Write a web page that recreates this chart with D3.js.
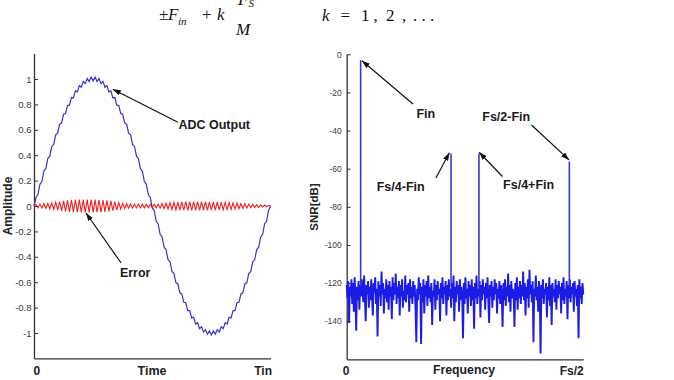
<!DOCTYPE html>
<html><head><meta charset="utf-8">
<script src="https://cdn.jsdelivr.net/npm/d3@7"></script>
<style>body{margin:0;background:#fff}svg{display:block}text.sans{font-family:"Liberation Sans",Arial,sans-serif}</style>
</head><body><svg id="c" width="674" height="380"></svg>
<script>
// ---- Left panel: time domain ----
const adcOutput=[0,.067,.090,.171,.193,.274,.294,.373,.392,.469,.485,.560,.573,.644,.654,.722,.728,.792,.794,.854,.851,.906,.899,.949,.936,.981,.963,1.003,.980,1.014,.985,1.014,.980,1.003,.963,.981,.936,.949,.899,.906,.851,.854,.794,.792,.728,.722,.654,.644,.573,.560,.485,.469,.392,.373,.294,.274,.193,.171,.090,.067,-.015,-.037,-.120,-.141,-.223,-.244,-.324,-.343,-.422,-.439,-.515,-.530,-.603,-.614,-.684,-.692,-.758,-.762,-.824,-.824,-.881,-.876,-.929,-.919,-.966,-.951,-.993,-.973,-1.010,-.984,-1.015,-.984,-1.010,-.973,-.993,-.951,-.966,-.919,-.929,-.876,-.881,-.824,-.824,-.762,-.758,-.692,-.684,-.614,-.603,-.530,-.515,-.439,-.422,-.343,-.324,-.244,-.223,-.141,-.120,-.037,0];
const errorSignal=[0,.012,-.014,.015,-.016,.018,-.018,.02,-.022,.025,-.027,.03,-.032,.035,-.038,.04,-.042,.045,-.046,.048,-.048,.05,-.05,.05,-.05,.05,-.05,.05,-.05,.049,-.05,.05,-.049,.048,-.048,.047,-.046,.044,-.042,.04,-.037,.034,-.03,.027,-.024,.021,-.019,.018,-.017,.016,-.016,.015,-.015,.015,-.014,.014,-.014,.013,-.013,.012,-.012,.013,-.014,.015,-.016,.018,-.02,.022,-.024,.026,-.027,.029,-.03,.031,-.032,.033,-.033,.034,-.034,.035,-.035,.035,-.035,.035,-.035,.035,-.034,.034,-.034,.033,-.033,.033,-.032,.032,-.031,.031,-.03,.029,-.028,.027,-.026,.025,-.024,.023,-.022,.02,-.019,.018,-.016,.015,-.014,.013,-.012,.011,-.01,.009,-.008,.007,-.006,.005,0];
const ampTicks=[-1,-0.8,-0.6,-0.4,-0.2,0,0.2,0.4,0.6,0.8,1];
const ampTickLabels=["-1","-0.8","-0.6","-0.4","-0.2","0","0.2","0.4","0.6","0.8","1"];
const timeTickLabels=["0","Tin"];

// ---- Right panel: spectrum ----
const noiseFloorDb=[
-121,-128,-119,-141,-122,-127,-118,-131,-120,-135,-117,-126,-145,-122,-129,-119,-134,-121,-127,-118,
-124,-130,-116,-128,-140,-121,-126,-119,-133,-122,-129,-118,-127,-137,-120,-125,-117,-131,-123,-148,
-119,-127,-121,-132,-114,-126,-120,-136,-123,-128,-118,-130,-121,-134,-119,-127,-122,-139,-117,-129,
-120,-126,-115,-131,-122,-128,-119,-137,-121,-127,-118,-133,-124,-129,-116,-130,-121,-126,-120,-135,
-118,-128,-122,-131,-119,-127,-121,-134,-151,-123,-129,-117,-126,-120,-152,-122,-130,-118,-136,-121,
-127,-119,-132,-116,-128,-122,-130,-120,-142,-124,-127,-118,-134,-121,-129,-119,-126,-123,-140,-120,
-128,-117,-131,-122,-126,-119,-137,-121,-129,-118,-127,-123,-133,-120,-128,-116,-140,-122,-130,-119,
-126,-121,-135,-118,-129,-122,-127,-149,-120,-131,-117,-128,-123,-136,-119,-127,-121,-132,-118,-129,
-122,-144,-120,-128,-116,-131,-123,-127,-119,-138,-121,-129,-118,-126,-122,-134,-120,-128,-117,-130,
-141,-121,-127,-119,-133,-122,-129,-118,-126,-120,-136,-123,-128,-119,-131,-121,-127,-143,-120,-129,
-118,-132,-122,-127,-115,-130,-121,-135,-119,-128,-123,-126,-143,-120,-129,-117,-134,-122,-128,-119,
-131,-121,-127,-114,-129,-120,-137,-122,-128,-118,-133,-113,-126,-121,-130,-119,-151,-123,-127,-116,
-129,-122,-135,-119,-127,-157,-121,-128,-118,-131,-123,-126,-120,-138,-122,-129,-117,-132,-121,-142,
-120,-127,-123,-130,-118,-134,-121,-128,-119,-126,-122,-136,-120,-129,-117,-131,-123,-127,-119,-139,
-121,-128,-118,-130,-122,-126,-120,-135,-119,-127,-123,-132,-121,-149,-118,-128,-122,-131,-120,-126];
const spikeFreq=[0.059,0.441,0.559,0.941];
const spikeDb=[-3,-52,-52,-56.3];
const snrTicks=[-140,-120,-100,-80,-60,-40,-20,0];
const snrTickLabels=["-140","-120","-100","-80","-60","-40","-20","0"];
const freqTickLabels=["0","Fs/2"];

const leftNotes=[
  {text:"ADC Output",tip:[40,0.92],tail:[73,0.66],at:[73.3,0.61]},
  {text:"Error",tip:[26.4,-0.055],tail:[44.2,-0.449],at:[43.6,-0.56]}];
const rightNotes=[
  {text:"Fin",tip:[0.0647,-3.4],tail:[0.280,-26.1],at:[0.295,-33.4]},
  {text:"Fs/4-Fin",tip:[0.434,-51.6],tail:[0.377,-64.9],at:[0.127,-71.7]},
  {text:"Fs/4+Fin",tip:[0.560,-51.4],tail:[0.658,-64.1],at:[0.661,-70.7]},
  {text:"Fs/2-Fin",tip:[0.940,-55.4],tail:[0.781,-37.1],at:[0.573,-35]}];

const SANS="Liberation Sans, Arial, sans-serif";
const SERIF="Liberation Serif, Times New Roman, serif";
const svg=d3.select("#c");
svg.append("rect").attr("width",674).attr("height",380).attr("fill","#fff");
svg.append("defs").append("marker").attr("id","ah").attr("viewBox","0 0 10 7")
  .attr("refX",10).attr("refY",3.5).attr("markerWidth",8).attr("markerHeight",5.6)
  .attr("markerUnits","userSpaceOnUse").attr("orient","auto")
  .append("path").attr("d","M0,0L10,3.5L0,7z").attr("fill","#111");

function styleAxis(g,fs){
  g.select(".domain").attr("stroke","#333").attr("stroke-width",1.3);
  g.selectAll(".tick line").attr("stroke","#333");
  g.selectAll(".tick text").style("font-size",fs).attr("fill","#3a3a3a").style("font-family",SANS);
}

// Left panel
const xT=d3.scaleLinear().domain([0,adcOutput.length-1]).range([34,270.5]);
const yA=d3.scaleLinear().domain([-1.2,1.2]).range([358.4,53.6]);
const gl=svg.append("g");
const ly=gl.append("g").attr("transform","translate(34,0)")
  .call(d3.axisLeft(yA).tickValues(ampTicks).tickFormat((d,i)=>ampTickLabels[i]).tickSizeInner(-4).tickSizeOuter(0).tickPadding(2.5));
styleAxis(ly,"9.5px");
const lx=gl.append("g").attr("transform","translate(0,358.4)")
  .call(d3.axisBottom(xT).tickValues([0,adcOutput.length-1]).tickFormat((d,i)=>timeTickLabels[i]).tickSize(0).tickPadding(8));
styleAxis(lx,"12px");
lx.selectAll(".tick text").attr("font-weight","bold").attr("fill","#222")
  .attr("text-anchor",(d,i)=>i===0?"start":"end").attr("dx",(d,i)=>i===0?-1:1);
function label(g,x,y,s,size,rot){
  const el=g.append("text").attr("class","sans").attr("text-anchor","middle").style("font-size",size)
    .attr("font-weight","bold").attr("fill","#222").text(s);
  if(rot) el.attr("transform",`translate(${x},${y}) rotate(-90)`); else el.attr("x",x).attr("y",y);
}
label(gl,152,375,"Time","12.5px");
label(gl,11.5,206,"Amplitude","12px",true);

const lineL=d3.line().x((d,i)=>xT(i)).y(d=>yA(d));
gl.append("path").datum(adcOutput).attr("d",lineL).attr("fill","none").attr("stroke","#3535cc").attr("stroke-width",1.2);
gl.append("path").datum(errorSignal).attr("d",lineL).attr("fill","none").attr("stroke","#ee2020").attr("stroke-width",1.1);

function drawNotes(g,notes,sx,sy){
  notes.forEach(n=>{
    g.append("line").attr("x1",sx(n.tail[0])).attr("y1",sy(n.tail[1]))
      .attr("x2",sx(n.tip[0])).attr("y2",sy(n.tip[1]))
      .attr("stroke","#111").attr("stroke-width",1.2).attr("marker-end","url(#ah)");
    g.append("text").attr("class","sans").attr("x",sx(n.at[0])).attr("y",sy(n.at[1]))
      .style("font-size","12.5px").attr("font-weight","bold").attr("fill","#1a1a1a").text(n.text);
  });
}
drawNotes(gl,leftNotes,xT,yA);

// Right panel
const xF=d3.scaleLinear().domain([0,1]).range([346.7,583.3]);
const yS=d3.scaleLinear().domain([-160,0]).range([359.3,54.3]);
const gr=svg.append("g");
const ry=gr.append("g").attr("transform","translate(346.7,0)")
  .call(d3.axisLeft(yS).tickValues(snrTicks).tickFormat((d,i)=>snrTickLabels[i]).tickSizeInner(-4).tickSizeOuter(0).tickPadding(5));
styleAxis(ry,"8.5px");
const rx=gr.append("g").attr("transform","translate(0,359.3)")
  .call(d3.axisBottom(xF).tickValues([0,1]).tickFormat((d,i)=>freqTickLabels[i]).tickSize(0).tickPadding(7));
styleAxis(rx,"12px");
rx.selectAll(".tick text").attr("font-weight","bold").attr("fill","#222")
  .attr("text-anchor",(d,i)=>i===0?"middle":"end").attr("dx",(d,i)=>i===0?-1:0);
label(gr,464,374,"Frequency","12.3px");
label(gr,318,207,"SNR[dB]","11.5px",true);

const nN=noiseFloorDb.length;
const lineR=d3.line().x((d,i)=>xF(i/(nN-1))).y(d=>yS(d));
gr.append("path").datum(noiseFloorDb).attr("d",lineR).attr("fill","none").attr("stroke","#1c1ce6").attr("stroke-width",1.9).attr("stroke-linejoin","bevel");
gr.selectAll("line.spike").data(spikeFreq).enter().append("line").attr("class","spike")
  .attr("x1",d=>xF(d)).attr("x2",d=>xF(d)).attr("y1",yS(-122)).attr("y2",(d,i)=>yS(spikeDb[i]))
  .attr("stroke","#3a3ac8").attr("stroke-width",1.6);
drawNotes(gr,rightNotes,xF,yS);

// Formula at top
const ft=svg.append("g").attr("fill","#111");
function t(x,y,s,size,it){ft.append("text").attr("x",x).attr("y",y).style("font-size",size).style("font-style",it?"italic":"normal").style("font-family",SERIF).text(s);}
t(159,20,"±","17px",false);
t(168,20,"F","17px",true);
t(178,24.5,"in","11px",true);
t(202,20,"+","17px",false);
t(217,20,"k","17px",true);
t(238,5,"F","17px",true);
t(248.5,7,"S","11px",true);
t(236,35,"M","17px",true);
t(322,20.5,"k","17px",true);
t(340.5,20.5,"=","17px",false);
t(361,20.5,"1","17px",false);
t(373.5,20.5,",","17px",false);
t(386,20.5,"2","17px",false);
t(402,20.5,",","17px",false);
t(413,20.5,".   .   .","17px",false);
</script></body></html>
